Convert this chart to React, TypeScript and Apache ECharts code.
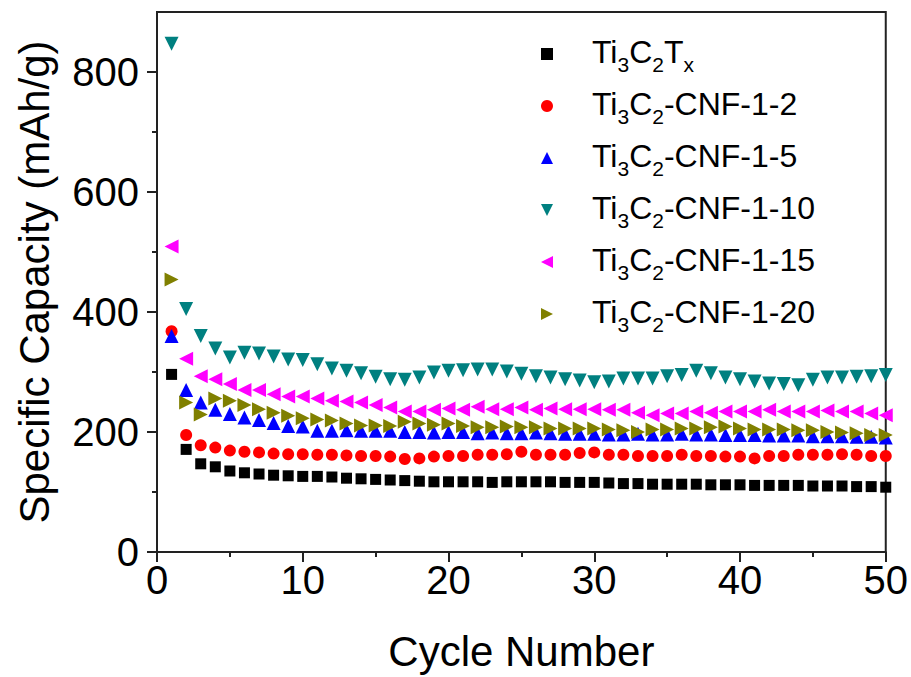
import React, { useEffect, useRef } from "react";
import * as echarts from "echarts";

const cycles = Array.from({ length: 50 }, (_, i) => i + 1);

const seriesNames = [
  "Ti3C2Tx",
  "Ti3C2-CNF-1-2",
  "Ti3C2-CNF-1-5",
  "Ti3C2-CNF-1-10",
  "Ti3C2-CNF-1-15",
  "Ti3C2-CNF-1-20",
];

const ti3c2tx = [296, 171, 147, 142, 135, 132, 130, 128, 127, 126, 126, 125, 123, 122, 121, 120, 119, 118, 117, 117, 117, 117, 116, 117, 117, 117, 117, 116, 116, 116, 115, 114, 114, 113, 113, 113, 113, 112, 112, 112, 111, 111, 111, 111, 110, 110, 110, 109, 109, 108];
const cnf12 = [368, 195, 178, 174, 169, 167, 166, 164, 163, 163, 162, 162, 161, 160, 160, 159, 155, 156, 159, 160, 160, 162, 162, 163, 167, 162, 162, 162, 165, 166, 162, 162, 160, 160, 160, 162, 160, 160, 159, 159, 156, 160, 160, 162, 162, 162, 163, 162, 160, 160];
const cnf15 = [360, 270, 249, 237, 230, 224, 220, 215, 210, 209, 202, 202, 203, 202, 202, 202, 200, 200, 199, 200, 200, 198, 199, 198, 198, 199, 198, 197, 197, 197, 196, 196, 197, 196, 196, 197, 196, 196, 195, 195, 195, 194, 194, 194, 193, 193, 193, 192, 192, 191];
const cnf110 = [847, 405, 360, 339, 324, 332, 331, 326, 321, 320, 313, 306, 302, 298, 292, 288, 287, 291, 299, 302, 303, 304, 304, 301, 297, 293, 291, 288, 286, 283, 284, 289, 289, 289, 293, 295, 302, 298, 291, 288, 284, 281, 280, 278, 287, 291, 291, 292, 293, 295];
const cnf115 = [509, 322, 293, 288, 280, 270, 270, 263, 259, 259, 256, 252, 251, 249, 245, 241, 234, 234, 237, 239, 237, 242, 238, 238, 241, 237, 239, 238, 238, 238, 237, 237, 232, 228, 231, 231, 234, 232, 234, 234, 234, 237, 234, 234, 234, 236, 234, 234, 231, 228];
const cnf120 = [454, 249, 229, 256, 252, 245, 238, 232, 227, 223, 221, 219, 214, 211, 211, 210, 217, 214, 212, 214, 210, 208, 208, 209, 208, 208, 206, 206, 206, 206, 204, 203, 200, 204, 204, 206, 206, 208, 209, 206, 204, 204, 204, 203, 203, 200, 199, 198, 195, 195];

const yMajorTicks = [0, 200, 400, 600, 800];
const yMinorTicks = [100, 300, 500, 700];

const legendRich: Record<string, string> = {
  "Ti3C2Tx": "{f|Ti}{s|3}{n|C}{s|2}{n|T}{s|x}",
  "Ti3C2-CNF-1-2": "{f|Ti}{s|3}{n|C}{s|2}{n|-CNF-1-2}",
  "Ti3C2-CNF-1-5": "{f|Ti}{s|3}{n|C}{s|2}{n|-CNF-1-5}",
  "Ti3C2-CNF-1-10": "{f|Ti}{s|3}{n|C}{s|2}{n|-CNF-1-10}",
  "Ti3C2-CNF-1-15": "{f|Ti}{s|3}{n|C}{s|2}{n|-CNF-1-15}",
  "Ti3C2-CNF-1-20": "{f|Ti}{s|3}{n|C}{s|2}{n|-CNF-1-20}",
};

const FONT = "'Liberation Sans', Arial, sans-serif";

export default function App() {
  const ref = useRef<HTMLDivElement>(null);
  useEffect(() => {
    document.body.style.margin = "0";
    if (!ref.current) return;
    const chart = echarts.init(ref.current, undefined, { renderer: "svg" });
    const values = [ti3c2tx, cnf12, cnf15, cnf110, cnf115, cnf120];
    const colors = ["#000000", "#ff0000", "#0000ff", "#008080", "#ff00ff", "#808000"];
    const symbols = ["rect", "circle", "triangle", "triangle", "triangle", "triangle"];
    const rotates = [0, 0, 0, 180, 90, -90];
    const sizes = [11, 12, 14, 14, 14, 14];
    const legendIcons = [
      "rect",
      "circle",
      "path://M5,0 L10,10 L0,10 Z",
      "path://M0,0 L10,0 L5,10 Z",
      "path://M10,0 L10,10 L0,5 Z",
      "path://M0,0 L0,10 L10,5 Z",
    ];
    const series = seriesNames.map((name, k) => ({
      name,
      type: "scatter",
      data: cycles.map((c, i) => [c, values[k][i]]),
      symbol: symbols[k],
      symbolSize: sizes[k],
      symbolRotate: rotates[k],
      itemStyle: { color: colors[k], opacity: 1 },
      xAxisIndex: 0,
      yAxisIndex: 0,
      clip: false,
    }));
    chart.setOption({
      animation: false,
      backgroundColor: "#ffffff",
      grid: {
        left: 157,
        right: 25,
        top: 12,
        bottom: 125,
        show: true,
        borderColor: "#222",
        borderWidth: 2,
        backgroundColor: "transparent",
      },
      legend: {
        orient: "vertical",
        left: 541,
        top: 36,
        padding: 0,
        itemWidth: 12,
        itemHeight: 12,
        itemGap: 13,
        data: seriesNames.map((name, k) => ({ name, icon: legendIcons[k] })),
        formatter: (name: string) => legendRich[name] || name,
        textStyle: {
          fontFamily: FONT,
          color: "#000",
          rich: {
            f: { fontSize: 32, lineHeight: 36, fontFamily: FONT, color: "#000", verticalAlign: "top", padding: [0, 0, 0, 34] },
            n: { fontSize: 32, lineHeight: 36, fontFamily: FONT, color: "#000", verticalAlign: "top" },
            s: { fontSize: 21, lineHeight: 24, fontFamily: FONT, color: "#000", verticalAlign: "top", padding: [18, 0, 0, 0] },
          },
        },
      },
      xAxis: [
        {
          type: "value",
          min: 0,
          max: 50,
          interval: 10,
          name: "Cycle Number",
          nameLocation: "middle",
          nameGap: 78,
          nameTextStyle: { fontFamily: FONT, fontSize: 42, color: "#000" },
          axisLine: { show: true, lineStyle: { color: "#222", width: 2 } },
          axisTick: { show: true, inside: false, length: 10, lineStyle: { color: "#222", width: 2 } },
          minorTick: { show: true, splitNumber: 2, length: 5, lineStyle: { color: "#222", width: 2 } },
          axisLabel: { fontFamily: FONT, fontSize: 40, color: "#000", margin: 8 },
          splitLine: { show: false },
        },
      ],
      yAxis: [
        {
          type: "value",
          min: 0,
          max: 900,
          name: "Specific Capacity (mAh/g)",
          nameLocation: "middle",
          nameGap: 102,
          nameTextStyle: { fontFamily: FONT, fontSize: 42, color: "#000" },
          axisLine: { show: true, lineStyle: { color: "#222", width: 2 } },
          axisTick: { show: true, inside: false, length: 10, customValues: yMajorTicks, lineStyle: { color: "#222", width: 2 } },
          axisLabel: { fontFamily: FONT, fontSize: 40, color: "#000", margin: 18, customValues: yMajorTicks },
          splitLine: { show: false },
        },
        {
          type: "value",
          min: 0,
          max: 900,
          position: "left",
          axisLine: { show: false },
          axisTick: { show: true, inside: false, length: 5, customValues: yMinorTicks, lineStyle: { color: "#222", width: 2 } },
          axisLabel: { show: false },
          splitLine: { show: false },
        },
      ],
      series,
    });
    return () => chart.dispose();
  }, []);
  return <div ref={ref} style={{ width: 911, height: 677 }} />;
}
